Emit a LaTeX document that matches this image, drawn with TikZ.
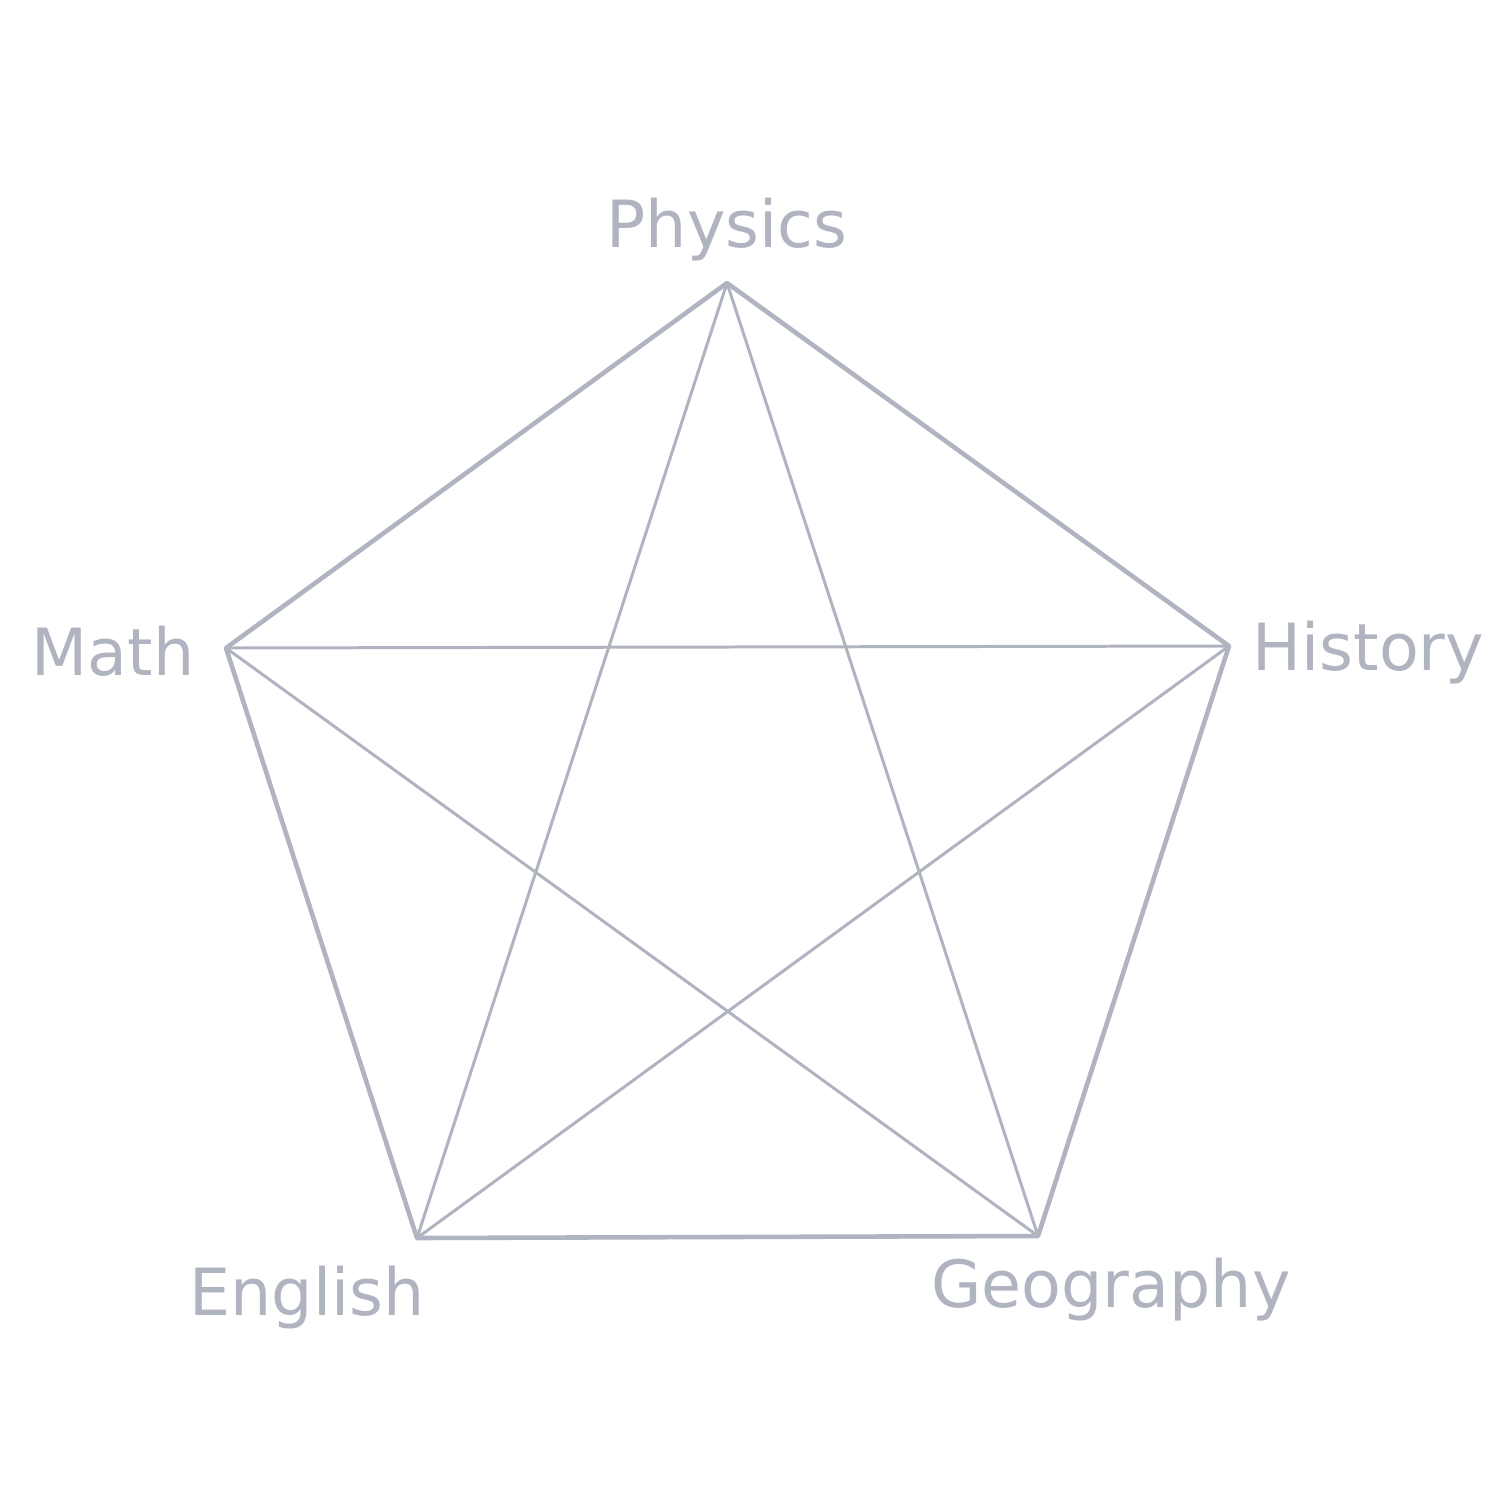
\documentclass[tikz,border=0pt]{standalone}
\usepackage{fontspec}
\setmainfont{DejaVu Sans}
\usepackage{tikz}
\usepackage{xcolor}
\definecolor{axisgrey}{HTML}{B0B3C0}
\tikzset{
  edge/.style={axisgrey,line width=1.3pt,line join=round},
  spoke/.style={axisgrey,line width=0.85pt},
  subj/.style={text=axisgrey,inner sep=0pt,font=\fontsize{18.5}{20}\selectfont}
}
\begin{document}
\begin{tikzpicture}[x=0.01cm,y=-0.01cm]
\useasboundingbox (0,0) rectangle (1512,1512);
\coordinate (phy) at (727,283);
\coordinate (his) at (1229,646);
\coordinate (geo) at (1038,1236);
\coordinate (eng) at (417,1238);
\coordinate (mat) at (226,648);
\draw[spoke] (phy)--(geo);
\draw[spoke] (phy)--(eng);
\draw[spoke] (his)--(mat);
\draw[spoke] (his)--(eng);
\draw[spoke] (mat)--(geo);
\draw[edge] (phy)--(his)--(geo)--(eng)--(mat)--cycle;
\node[subj,anchor=base] (lphy) at (727,247) {Physics};
\node[subj,anchor=base west] (lhis) at (1252,670) {History};
\node[subj,anchor=base] (lgeo) at (1111,1307) {Geography};
\node[subj,anchor=base] (leng) at (307,1315) {English};
\node[subj,anchor=base east] (lmat) at (195,675) {Math};
\end{tikzpicture}
\end{document}
